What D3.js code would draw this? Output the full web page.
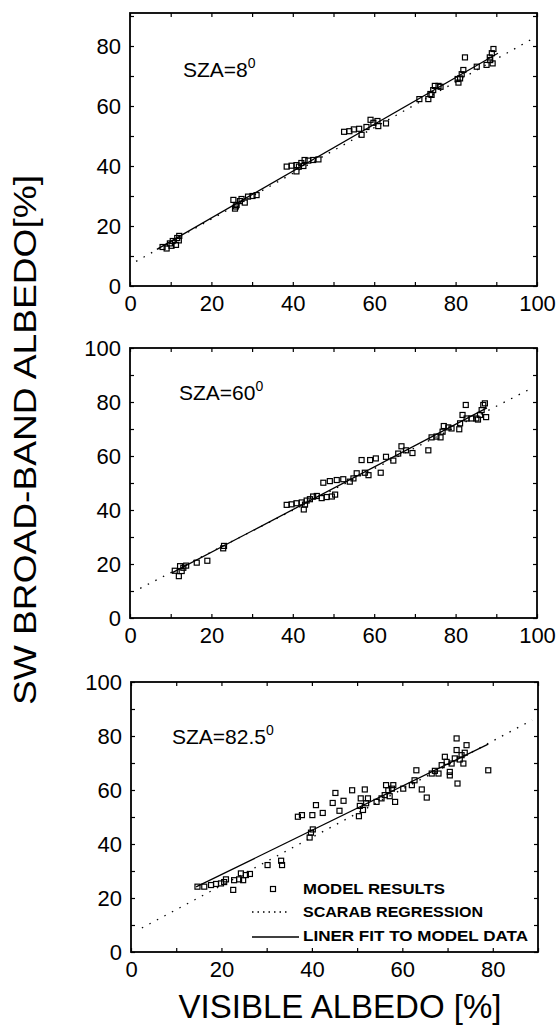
<!DOCTYPE html>
<html>
<head>
<meta charset="utf-8">
<script src="https://cdn.jsdelivr.net/npm/d3@7"></script>
<style>
html,body{margin:0;padding:0;background:#fff;}
svg{display:block;font-family:"Liberation Sans",Arial,Helvetica,sans-serif;}
</style>
</head>
<body>
<svg id="chart" width="558" height="1026"></svg>
<script>
// ---------------- DATA ----------------
const panelLabels = ["SZA=8", "SZA=60", "SZA=82.5"];
const xTickLabels100 = [0, 20, 40, 60, 80, 100];
const xTickLabels90 = [0, 20, 40, 60, 80];
const yTickLabels100 = [0, 20, 40, 60, 80, 100];
const yTickLabels90 = [0, 20, 40, 60, 80];
const legendLabels = ["MODEL RESULTS", "SCARAB REGRESSION", "LINER  FIT TO MODEL DATA"];
const xAxisTitle = "VISIBLE ALBEDO [%]";
const yAxisTitle = "SW BROAD-BAND  ALBEDO[%]";

// model results (visible albedo, broadband albedo)
const sza8Points = [
  [8,13],[9,12.5],[9.8,14.2],[10.5,15],[11.3,13.7],[11.6,16],[12.1,16.7],[10.2,13.4],[12,15.2],
  [25.4,28.7],[25.8,25.8],[26.2,27],[27,28.3],[27.4,29],[28.2,27.8],[29,29.8],[30.1,30],[31.1,30.3],[26,26.5],
  [38.5,39.8],[39.7,40.1],[40.9,38.2],[40.9,40.3],[41.5,39.8],[42.1,41],[42.6,40],[42.9,42],[43.8,41.8],[45,42],[46.3,42.2],
  [52.6,51.4],[53.9,51.6],[55,52.2],[56.3,52.4],[56.9,50.4],[58.1,53],[59.1,55.4],[59.8,54.4],[60.8,55],[61,53.3],[62.9,54.2],
  [71.1,62.3],[73.3,62.3],[74.1,63.7],[74.5,65.3],[74.9,66.7],[75.8,66.7],[76.3,66.4],[73.8,64],
  [80.7,67.8],[81.1,69.2],[81.5,70.6],[81.9,72],[82.3,76.2],[80.5,69],[85.2,73.1],
  [87.6,73.7],[88.5,75.3],[88.9,77.6],[89.3,79],[89.1,74.2],[88.4,76.2]
];
const sza60Points = [
  [11,17.5],[12,15.5],[12.3,19.2],[13.1,18.6],[13.8,19.4],[12.7,17.4],[16.4,20.5],[19,21.2],[22.9,25.8],[23.1,26.7],
  [38.5,41.9],[39.7,42.1],[40.9,42.5],[42.2,42.8],[42.7,40.2],[43,42],[43.4,43.5],[44.2,44],[45,45],[45.9,45.2],[47.1,44.4],[48.3,44.8],[49.6,45],[50.4,45.7],
  [47.5,50.1],[49.1,50.7],[50.8,51.1],[52.4,51.4],[54,50.5],[54.9,51.7],[55.7,53.6],[56.9,58.5],[57.7,53.8],[59,58.5],[58.6,52.9],[60.4,59.1],[61.6,53.8],
  [62.9,59.7],[64.7,58.3],[65.9,60.9],[66.7,63.6],[67.8,62.1],[69.4,61.1],[73.3,62.1],
  [74.1,66.9],[75.3,67.2],[76.3,66.9],[76.8,69],[77.1,71.1],[78.2,70.6],[79,70.2],
  [80.9,69.9],[81.1,72.1],[81.7,75.2],[82.5,78.9],[82.7,73.9],[83.9,73.9],[85.1,73.9],[86,75.2],[86.4,77],[86.8,78.9],[87.2,79.5],[87.5,74.4],[85.5,73.5]
];
const sza82Points = [
  [14.7,24.2],[16.2,24.2],[17.7,24.8],[18.8,25.2],[19.9,25.4],[20.6,25.9],[21,26.9],[22.6,23],[22.8,26.6],[23.9,26.9],
  [24.3,29.1],[25.4,28.5],[26.3,28.9],[24.8,26.6],[30.2,32.2],[33.2,33.8],[33.4,32.2],
  [36.9,50.1],[37.8,50.7],[39.5,42.4],[39.8,44.2],[40.2,45.4],[40.1,50.7],[40.9,54.4],[42.4,51.5],[44.6,55.2],[45.2,58.9],
  [46.1,52.3],[47,56],[48.9,59.9],[50.4,50.3],[50.6,54.1],[50.8,56.9],[51.7,60.2],[51.3,52.6],[52,55.1],[52.4,56.9],
  [54.3,55.6],[55.4,56.9],[56.1,58.1],[56.4,61.8],[56.9,59.9],[57.7,60.5],[58,61.8],[58.4,55.6],[57.2,57.7],
  [60.2,60.5],[62.1,61.8],[63.1,67.3],[62.7,63.6],[64.3,60.2],[65.4,57.2],[66.5,66.1],[67.2,67.1],[68,66.1],[68.7,69.2],
  [69.4,72.3],[69.8,70.4],[70.5,66.7],[70.5,65.4],[70.9,69.8],[71.6,71.7],[72,79.1],[72,74.8],[72.2,62.4],[72.7,71.3],
  [73.1,72.9],[73.5,69.8],[73.8,73.8],[74.2,76.6],[79,67.3]
];
// line end points (visible albedo, broadband albedo)
const sza8Scarab = [[1.5,8.2],[99,82.5]];
const sza8Fit = [[6.6,12.2],[90.4,77.6]];
const sza60Scarab = [[2.5,11],[98.8,85.2]];
const sza60Fit = [[10.3,16.7],[87.7,77.8]];
const sza82Scarab = [[2.4,8.9],[88.7,85.9]];
const sza82Fit = [[14.4,24.1],[79,77]];

// ---------------- LAYOUT ----------------
const svg = d3.select("#chart");
const panels = [
  {pts: sza8Points, scarab: sza8Scarab, fit: sza8Fit, label: panelLabels[0],
   xDomain: [0,100], yDomain: [0,91], xLabels: xTickLabels100, yLabels: yTickLabels90,
   left: 130, right: 537, top: 13, bottom: 286, labelX: 183, labelY: 77},
  {pts: sza60Points, scarab: sza60Scarab, fit: sza60Fit, label: panelLabels[1],
   xDomain: [0,100], yDomain: [0,100], xLabels: xTickLabels100, yLabels: yTickLabels100,
   left: 130, right: 537, top: 348, bottom: 618, labelX: 179, labelY: 400},
  {pts: sza82Points, scarab: sza82Scarab, fit: sza82Fit, label: panelLabels[2],
   xDomain: [0,90], yDomain: [0,100], xLabels: xTickLabels90, yLabels: yTickLabels100,
   left: 131, right: 538, top: 682, bottom: 952, labelX: 172, labelY: 744, legend: true}
];

const tickFont = 22;

panels.forEach(p => {
  const x = d3.scaleLinear().domain(p.xDomain).range([p.left, p.right]);
  const y = d3.scaleLinear().domain(p.yDomain).range([p.bottom, p.top]);
  const xt = d3.range(p.xDomain[0], p.xDomain[1] + 0.001, 10);
  const yt = d3.range(p.yDomain[0], p.yDomain[1] + 0.001, 10);
  const g = svg.append("g");

  const fmtX = d => p.xLabels.includes(d) ? String(d) : "";
  const fmtY = d => p.yLabels.includes(d) ? String(d) : "";

  const ax = [
    g.append("g").attr("transform", `translate(0,${p.bottom})`)
      .call(d3.axisBottom(x).tickValues(xt).tickFormat(fmtX).tickSizeInner(-4).tickSizeOuter(0).tickPadding(9)),
    g.append("g").attr("transform", `translate(0,${p.top})`)
      .call(d3.axisTop(x).tickValues(xt).tickFormat("").tickSizeInner(-4).tickSizeOuter(0)),
    g.append("g").attr("transform", `translate(${p.left},0)`)
      .call(d3.axisLeft(y).tickValues(yt).tickFormat(fmtY).tickSizeInner(-4).tickSizeOuter(0).tickPadding(9)),
    g.append("g").attr("transform", `translate(${p.right},0)`)
      .call(d3.axisRight(y).tickValues(yt).tickFormat("").tickSizeInner(-4).tickSizeOuter(0))
  ];
  ax.forEach(a => {
    a.select(".domain").remove();
    a.selectAll(".tick line").attr("stroke", "#000").attr("stroke-width", 1.2);
    a.selectAll(".tick text").attr("fill", "#000").attr("font-size", tickFont)
      .attr("font-family", "Liberation Sans, Arial, sans-serif");
  });

  // frame
  g.append("rect").attr("x", p.left).attr("y", p.top)
    .attr("width", p.right - p.left).attr("height", p.bottom - p.top)
    .attr("fill", "none").attr("stroke", "#000").attr("stroke-width", 1.8);

  const line = d3.line().x(d => x(d[0])).y(d => y(d[1]));
  g.append("path").attr("d", line(p.scarab)).attr("fill", "none")
    .attr("stroke", "#000").attr("stroke-width", 1.3).attr("stroke-dasharray", "1.5,7");
  g.append("path").attr("d", line(p.fit)).attr("fill", "none")
    .attr("stroke", "#000").attr("stroke-width", 1.3);

  const s = 5;
  g.append("g").selectAll("rect").data(p.pts).join("rect")
    .attr("x", d => x(d[0]) - s / 2).attr("y", d => y(d[1]) - s / 2)
    .attr("width", s).attr("height", s)
    .attr("fill", "none").attr("stroke", "#000").attr("stroke-width", 1.2);

  const t = g.append("text").attr("x", p.labelX).attr("y", p.labelY)
    .attr("font-size", 21).attr("fill", "#000").text(p.label);
  t.append("tspan").attr("dy", -9).attr("font-size", 14).text("0");

  if (p.legend) {
    const lg = g.append("g");
    lg.append("rect").attr("x", 273 - s / 2).attr("y", 889 - s / 2).attr("width", s).attr("height", s)
      .attr("fill", "none").attr("stroke", "#000").attr("stroke-width", 1.2);
    lg.append("line").attr("x1", 252).attr("x2", 290).attr("y1", 912).attr("y2", 912)
      .attr("stroke", "#000").attr("stroke-width", 1.3).attr("stroke-dasharray", "1.5,4");
    lg.append("line").attr("x1", 252).attr("x2", 299).attr("y1", 937).attr("y2", 937)
      .attr("stroke", "#000").attr("stroke-width", 1.3);
    const lw = [142, 180, 225];
    const lb = [894, 917, 941];
    legendLabels.forEach((L, i) => {
      lg.append("text").attr("x", 303).attr("y", lb[i]).attr("font-size", 15)
        .attr("font-weight", "bold").attr("fill", "#000")
        .attr("textLength", lw[i]).attr("lengthAdjust", "spacingAndGlyphs").text(L);
    });
  }
});

// axis titles
svg.append("text").attr("x", 340).attr("y", 1018).attr("text-anchor", "middle")
  .attr("font-size", 33).attr("fill", "#000").text(xAxisTitle);
svg.append("text").attr("transform", "translate(36,440) rotate(-90)").attr("text-anchor", "middle")
  .attr("font-size", 32).attr("fill", "#000")
  .attr("textLength", 530).attr("lengthAdjust", "spacingAndGlyphs").text(yAxisTitle);
</script>
</body>
</html>
